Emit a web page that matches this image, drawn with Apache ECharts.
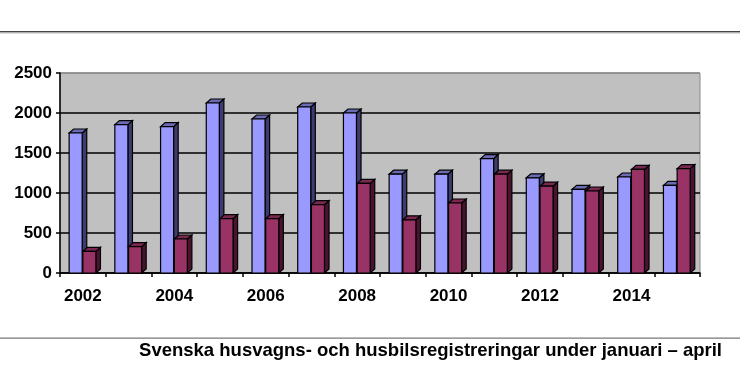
<!DOCTYPE html>
<html><head><meta charset="utf-8">
<script src="https://cdn.jsdelivr.net/npm/echarts@6/dist/echarts.min.js"></script>
<style>html,body{margin:0;padding:0;background:#fff}#c{width:740px;height:368px}</style>
</head><body><div id="c"></div>
<script>
var years = ['2002','2003','2004','2005','2006','2007','2008','2009','2010','2011','2012','2013','2014','2015'];
var husvagnar = [1750,1855,1830,2125,1925,2075,2000,1235,1235,1430,1190,1045,1200,1095];
var husbilar = [270,330,425,680,680,855,1120,665,875,1235,1085,1025,1295,1305];
var yTicks = [0,500,1000,1500,2000,2500];
var titleText = 'Svenska husvagns- och husbilsregistreringar under januari – april';

function make3D(offset, front, side, topc) {
  return function (params, api) {
    var c = api.coord([api.value(0), api.value(1)]);
    var base = api.coord([api.value(0), 0]);
    var w = api.size([1, 0])[0];
    var fw = w * 0.285, d = w * 0.1, dy = 4;
    var x0 = c[0] + offset * w;
    var top = c[1], bot = base[1];
    var st = {stroke: '#000', lineWidth: 1.2};
    return {type: 'group', children: [
      {type: 'polygon', shape: {points: [[x0 + fw, top], [x0 + fw + d, top - dy], [x0 + fw + d, bot - dy], [x0 + fw, bot]]}, style: Object.assign({fill: side}, st)},
      {type: 'polygon', shape: {points: [[x0, top], [x0 + d, top - dy], [x0 + fw + d, top - dy], [x0 + fw, top]]}, style: Object.assign({fill: topc}, st)},
      {type: 'rect', shape: {x: x0, y: top, width: fw, height: bot - top}, style: Object.assign({fill: front}, st)}
    ]};
  };
}

var chart = echarts.init(document.getElementById('c'));
chart.setOption({
  animation: false,
  grid: {left: 60, right: 40, top: 73, bottom: 95, show: true, backgroundColor: '#c0c0c0', borderColor: '#888', borderWidth: 1},
  xAxis: {
    type: 'category', data: years, boundaryGap: true,
    axisLine: {show: true, lineStyle: {color: '#000', width: 1.5}},
    axisTick: {show: true, interval: 0, length: 4, lineStyle: {color: '#000', width: 1.5}},
    axisLabel: {interval: 1, margin: 15, color: '#000', fontWeight: 'bold', fontSize: 17, fontFamily: 'Liberation Sans, Arial, sans-serif'},
    splitLine: {show: false}
  },
  yAxis: {
    type: 'value', min: yTicks[0], max: yTicks[yTicks.length - 1], interval: 500,
    axisLine: {show: true, lineStyle: {color: '#000', width: 1.5}},
    axisTick: {show: true, length: 4, lineStyle: {color: '#000', width: 1.5}},
    axisLabel: {margin: 8, color: '#000', fontWeight: 'bold', fontSize: 17, fontFamily: 'Liberation Sans, Arial, sans-serif', formatter: function (v) { return String(v); }},
    splitLine: {show: true, lineStyle: {color: ['#000', '#000', '#000', '#000', '#000', '#888'], width: 1.5}}
  },
  series: [
    {type: 'custom', renderItem: make3D(-0.3, '#9999ff', '#3c3c70', '#6b6bb3'), data: husvagnar.map(function (v, i) { return [i, v]; }), encode: {x: 0, y: 1}, clip: false, z: 2},
    {type: 'custom', renderItem: make3D(0.0, '#993366', '#4a1430', '#7a2850'), data: husbilar.map(function (v, i) { return [i, v]; }), encode: {x: 0, y: 1}, clip: false, z: 3}
  ],
  graphic: [
    {type: 'rect', shape: {x: 0, y: 31, width: 740, height: 1.5}, style: {fill: '#444'}},
    {type: 'rect', shape: {x: 0, y: 32.5, width: 740, height: 1}, style: {fill: '#bbb'}},
    {type: 'rect', shape: {x: 0, y: 337.5, width: 740, height: 1.2}, style: {fill: '#777'}},
    {type: 'text', right: 18, top: 341, style: {text: titleText, fill: '#000', font: 'bold 18.5px "Liberation Sans", Arial, sans-serif'}}
  ]
});
</script></body></html>
